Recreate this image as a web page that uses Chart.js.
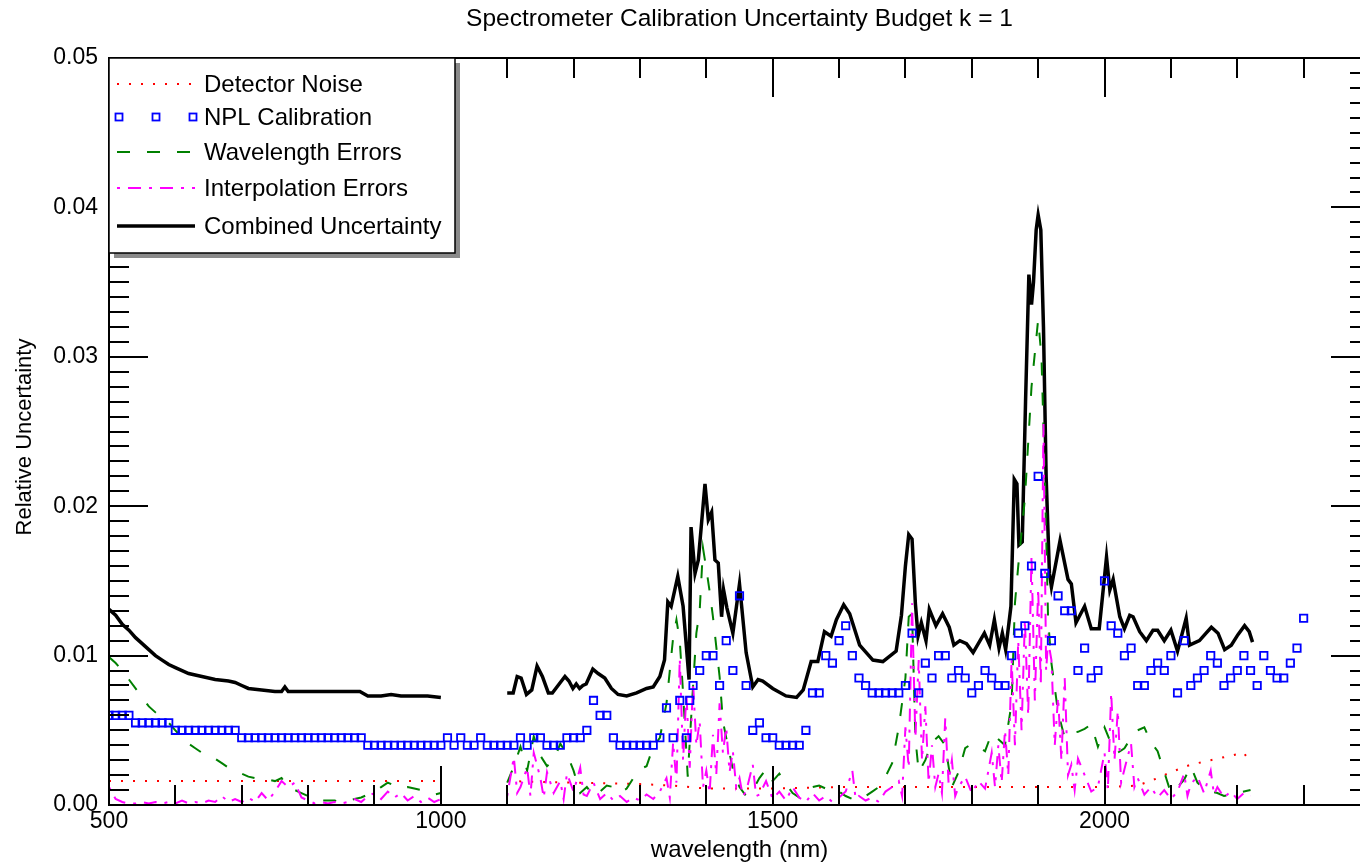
<!DOCTYPE html>
<html>
<head>
<meta charset="utf-8">
<title>Spectrometer Calibration Uncertainty Budget</title>
<script src="https://cdn.jsdelivr.net/npm/chart.js@4.4.1/dist/chart.umd.min.js"></script>
<style>
    html, body { margin: 0; padding: 0; background: #ffffff; overflow: hidden; }
    canvas { display: block; }
</style>
</head>
<body>
<canvas id="budgetChart" width="1400" height="863"></canvas>
<script>
// ---- data: [wavelength nm, relative uncertainty] ----
// null breaks the line (no data between 1000 and 1100 nm)
const detectorNoise = [
    [500, 0.0016], [600, 0.0016], [700, 0.0016], [800, 0.0016], [900, 0.0016], [1000, 0.0016], [1050, null],
    [1100, 0.0016], [1200, 0.0015], [1300, 0.0014], [1350, 0.0013], [1400, 0.0011], [1500, 0.0011],
    [1600, 0.0012], [1700, 0.0012], [1800, 0.0012], [1900, 0.0012], [2000, 0.0012], [2050, 0.0013],
    [2080, 0.0018], [2100, 0.0022], [2130, 0.0027], [2160, 0.003], [2190, 0.0033], [2210, 0.0035], [2220, 0.0028]
];

const nplCalibration = [
    [500, 0.006], [510, 0.006], [520, 0.006], [530, 0.006],
    [540, 0.0055], [550, 0.0055], [560, 0.0055], [570, 0.0055], [580, 0.0055], [590, 0.0055],
    [600, 0.005], [610, 0.005], [620, 0.005], [630, 0.005], [640, 0.005], [650, 0.005], [660, 0.005], [670, 0.005], [680, 0.005], [690, 0.005],
    [700, 0.0045], [710, 0.0045], [720, 0.0045], [730, 0.0045], [740, 0.0045], [750, 0.0045], [760, 0.0045], [770, 0.0045], [780, 0.0045], [790, 0.0045],
    [800, 0.0045], [810, 0.0045], [820, 0.0045], [830, 0.0045], [840, 0.0045], [850, 0.0045], [860, 0.0045], [870, 0.0045], [880, 0.0045],
    [890, 0.004], [900, 0.004], [910, 0.004], [920, 0.004], [930, 0.004], [940, 0.004], [950, 0.004], [960, 0.004], [970, 0.004], [980, 0.004], [990, 0.004], [1000, 0.004],
    [1010, 0.0045], [1020, 0.004], [1030, 0.0045], [1040, 0.004], [1050, 0.004], [1060, 0.0045], [1070, 0.004], [1080, 0.004], [1090, 0.004], [1100, 0.004],
    [1110, 0.004], [1120, 0.0045], [1130, 0.004], [1140, 0.0045], [1150, 0.0045], [1160, 0.004], [1170, 0.004], [1180, 0.004], [1190, 0.0045], [1200, 0.0045],
    [1210, 0.0045], [1220, 0.005], [1230, 0.007], [1240, 0.006], [1250, 0.006], [1260, 0.0045], [1270, 0.004], [1280, 0.004], [1290, 0.004], [1300, 0.004],
    [1310, 0.004], [1320, 0.004], [1330, 0.0045], [1340, 0.0065], [1350, 0.0045], [1360, 0.007], [1370, 0.0045], [1375, 0.007], [1380, 0.008], [1390, 0.009],
    [1400, 0.01], [1410, 0.01], [1420, 0.008], [1430, 0.011], [1440, 0.009], [1450, 0.014], [1460, 0.008], [1470, 0.005], [1480, 0.0055], [1490, 0.0045],
    [1500, 0.0045], [1510, 0.004], [1520, 0.004], [1530, 0.004], [1540, 0.004], [1550, 0.005], [1560, 0.0075], [1570, 0.0075], [1580, 0.01], [1590, 0.0095],
    [1600, 0.011], [1610, 0.012], [1620, 0.01], [1630, 0.0085], [1640, 0.008], [1650, 0.0075], [1660, 0.0075], [1670, 0.0075], [1680, 0.0075], [1690, 0.0075],
    [1700, 0.008], [1710, 0.0115], [1720, 0.0075], [1730, 0.0095], [1740, 0.0085], [1750, 0.01], [1760, 0.01], [1770, 0.0085], [1780, 0.009], [1790, 0.0085],
    [1800, 0.0075], [1810, 0.008], [1820, 0.009], [1830, 0.0085], [1840, 0.008], [1850, 0.008], [1860, 0.01], [1870, 0.0115], [1880, 0.012], [1890, 0.016],
    [1900, 0.022], [1910, 0.0155], [1920, 0.011], [1930, 0.014], [1940, 0.013], [1950, 0.013], [1960, 0.009], [1970, 0.0105], [1980, 0.0085], [1990, 0.009],
    [2000, 0.015], [2010, 0.012], [2020, 0.0115], [2030, 0.01], [2040, 0.0105], [2050, 0.008], [2060, 0.008], [2070, 0.009], [2080, 0.0095], [2090, 0.009],
    [2100, 0.01], [2110, 0.0075], [2120, 0.011], [2130, 0.008], [2140, 0.0085], [2150, 0.009], [2160, 0.01], [2170, 0.0095], [2180, 0.008], [2190, 0.0085],
    [2200, 0.009], [2210, 0.01], [2220, 0.009], [2230, 0.008], [2240, 0.01], [2250, 0.009], [2260, 0.0085], [2270, 0.0085], [2280, 0.0095], [2290, 0.0105],
    [2300, 0.0125]
];

const wavelengthErrors = [
    [500, 0.0099], [510, 0.0095], [520, 0.009], [530, 0.0084], [540, 0.0078], [550, 0.0072], [560, 0.0066], [570, 0.0062], [580, 0.0058], [590, 0.0055],
    [600, 0.005], [610, 0.0045], [620, 0.0041], [630, 0.0038], [640, 0.0035], [650, 0.0033], [660, 0.0031], [670, 0.0028], [680, 0.0025], [690, 0.0023],
    [700, 0.0021], [710, 0.0019], [720, 0.0018], [730, 0.0017], [740, 0.0017], [750, 0.0016], [760, 0.0018], [770, 0.0012], [780, 0.001], [790, 0.0008],
    [800, 0.0006], [810, 0.0004], [820, 0.0003], [830, 0.0003], [840, 0.0003], [850, 0.0002], [860, 0.0003], [870, 0.0004], [880, 0.0005], [890, 0.0007],
    [900, 0.0009], [910, 0.0012], [920, 0.0015], [930, 0.0013], [940, 0.0011], [950, 0.0012], [960, 0.0011], [970, 0.001], [980, 0.0008], [990, 0.0007],
    [1000, 0.0008], [1050, null],
    [1100, 0.0015], [1110, 0.0026], [1120, 0.0039], [1130, 0.0023], [1140, 0.0046], [1150, 0.0033], [1160, 0.0026], [1170, 0.003], [1180, 0.0041], [1190, 0.0034],
    [1200, 0.0023], [1210, 0.0008], [1220, 0.0012], [1230, 0.0006], [1240, 0.0009], [1250, 0.0013], [1260, 0.0012], [1270, 0.0008], [1280, 0.0011], [1290, 0.0018],
    [1300, 0.0024], [1310, 0.0026], [1320, 0.0039], [1330, 0.0045], [1340, 0.0068], [1350, 0.0112], [1355, 0.0124], [1360, 0.011], [1365, 0.0075], [1372, 0.0019],
    [1378, 0.0065], [1385, 0.0115], [1390, 0.013], [1395, 0.0172], [1400, 0.0158], [1405, 0.0143], [1410, 0.0126], [1420, 0.0086], [1425, 0.0056], [1430, 0.0045],
    [1440, 0.0024], [1450, 0.0012], [1460, 0.0006], [1470, 0.001], [1480, 0.0018], [1490, 0.0024], [1500, 0.0016], [1510, 0.0021], [1520, 0.0014], [1530, 0.0008],
    [1540, 0.0005], [1550, 0.0009], [1560, 0.0012], [1570, 0.0013], [1580, 0.0011], [1590, 0.0012], [1600, 0.0009], [1610, 0.0006], [1620, 0.0004], [1630, 0.0007],
    [1640, 0.0006], [1650, 0.0009], [1660, 0.0012], [1670, 0.0019], [1680, 0.0028], [1690, 0.0052], [1700, 0.0085], [1705, 0.0126], [1710, 0.0128], [1715, 0.0045],
    [1720, 0.0022], [1730, 0.003], [1740, 0.0042], [1750, 0.0046], [1760, 0.004], [1770, 0.0012], [1780, 0.0022], [1790, 0.0038], [1800, 0.0041], [1810, 0.0039],
    [1820, 0.0036], [1830, 0.0048], [1840, 0.0044], [1850, 0.004], [1860, 0.0068], [1865, 0.0135], [1870, 0.016], [1880, 0.0205], [1890, 0.028], [1900, 0.0325],
    [1905, 0.03], [1910, 0.022], [1915, 0.0124], [1920, 0.0095], [1930, 0.0062], [1940, 0.0045], [1950, 0.0048], [1960, 0.0049], [1970, 0.0051], [1980, 0.0054],
    [1990, 0.0039], [2000, 0.0052], [2010, 0.0041], [2020, 0.0035], [2030, 0.0038], [2040, 0.0045], [2050, 0.005], [2060, 0.0052], [2070, 0.0042], [2080, 0.0036],
    [2090, 0.0022], [2100, 0.0008], [2110, 0.0012], [2120, 0.0017], [2130, 0.0026], [2140, 0.0015], [2150, 0.0011], [2160, 0.0009], [2170, 0.0008], [2180, 0.0006],
    [2190, 0.0007], [2200, 0.0008], [2210, 0.0009], [2220, 0.001]
];

const interpolationErrors = [
    [500, 0.0012], [510, 0.0004], [520, 0.0002], [530, 0.0001], [540, 0.0001], [550, 0.0002], [560, 0.0001], [570, 0.0002], [580, 0.0001], [590, 0.0002],
    [600, 0.0001], [610, 0.0003], [620, 0.0001], [630, 0.0002], [640, 0.0001], [650, 0.0003], [660, 0.0002], [670, 0.0006], [680, 0.0002], [690, 0.0004],
    [700, 0.0002], [710, 0.0005], [720, 0.0002], [730, 0.0008], [740, 0.0003], [750, 0.0009], [760, 0.0016], [770, 0.0012], [780, 0.0015], [790, 0.0005],
    [800, 0.0003], [810, 0.0001], [820, 0.0002], [830, 0.0001], [840, 0.0002], [850, 0.0001], [860, 0.0002], [870, 0.0004], [880, 0.0002], [890, 0.0006],
    [900, 0.0008], [910, 0.0004], [920, 0.0009], [930, 0.0005], [940, 0.0008], [950, 0.0003], [960, 0.0006], [970, 0.0002], [980, 0.0005], [990, 0.0002],
    [1000, 0.0004], [1050, null],
    [1100, 0.0006], [1110, 0.0032], [1115, 0.0008], [1120, 0.0012], [1130, 0.0025], [1135, 0.0006], [1140, 0.0035], [1150, 0.0018], [1155, 0.0005], [1160, 0.0022],
    [1170, 0.0008], [1180, 0.0016], [1185, 0.0004], [1190, 0.0021], [1200, 0.0009], [1210, 0.0025], [1215, 0.0007], [1220, 0.0006], [1230, 0.0015], [1240, 0.0004],
    [1250, 0.0008], [1260, 0.0003], [1270, 0.0006], [1280, 0.0002], [1290, 0.0005], [1300, 0.0003], [1310, 0.0007], [1320, 0.0004], [1330, 0.0009],
    [1340, 0.0018], [1345, 0.0005], [1350, 0.0042], [1355, 0.0015], [1360, 0.0098], [1365, 0.003], [1370, 0.0075], [1375, 0.0025], [1380, 0.0082], [1385, 0.004],
    [1390, 0.0056], [1395, 0.0012], [1400, 0.0023], [1405, 0.0008], [1410, 0.0047], [1415, 0.002], [1420, 0.0068], [1425, 0.0035], [1430, 0.0052], [1435, 0.0022],
    [1440, 0.0036], [1445, 0.0012], [1450, 0.0018], [1455, 0.0006], [1460, 0.0009], [1470, 0.0027], [1475, 0.0006], [1480, 0.0007], [1490, 0.0016],
    [1500, 0.0004], [1510, 0.0009], [1520, 0.0003], [1530, 0.0012], [1540, 0.0005], [1550, 0.0002], [1560, 0.0008], [1570, 0.0003], [1580, 0.0006], [1590, 0.0002],
    [1600, 0.0005], [1610, 0.0009], [1620, 0.0023], [1625, 0.0004], [1630, 0.0006], [1640, 0.0003], [1650, 0.0005], [1660, 0.0002], [1670, 0.0009], [1680, 0.0012],
    [1690, 0.0016], [1695, 0.0006], [1700, 0.0052], [1705, 0.0025], [1710, 0.0135], [1715, 0.0045], [1720, 0.0097], [1725, 0.003], [1730, 0.0066], [1735, 0.0015],
    [1740, 0.004], [1745, 0.0012], [1750, 0.0021], [1755, 0.0008], [1760, 0.0058], [1765, 0.0015], [1770, 0.003], [1775, 0.0006], [1780, 0.0012], [1790, 0.0019],
    [1800, 0.0008], [1810, 0.0016], [1820, 0.0011], [1830, 0.0035], [1835, 0.0012], [1840, 0.004], [1845, 0.0015], [1850, 0.005], [1855, 0.002], [1860, 0.0098],
    [1865, 0.004], [1870, 0.011], [1875, 0.005], [1880, 0.0124], [1885, 0.006], [1890, 0.0167], [1895, 0.007], [1900, 0.0145], [1904, 0.008], [1908, 0.0255],
    [1912, 0.009], [1915, 0.011], [1920, 0.0097], [1925, 0.004], [1930, 0.0072], [1935, 0.003], [1940, 0.0085], [1945, 0.002], [1950, 0.0027], [1955, 0.001],
    [1960, 0.0031], [1970, 0.002], [1980, 0.0009], [1990, 0.0012], [2000, 0.0035], [2005, 0.001], [2010, 0.0075], [2015, 0.003], [2020, 0.0063], [2025, 0.0015],
    [2030, 0.0024], [2040, 0.0041], [2045, 0.0012], [2050, 0.0018], [2060, 0.0007], [2070, 0.0012], [2080, 0.0005], [2090, 0.001], [2100, 0.0004], [2110, 0.0009],
    [2120, 0.0021], [2125, 0.0006], [2130, 0.0014], [2140, 0.0019], [2150, 0.0008], [2160, 0.0023], [2165, 0.0007], [2170, 0.0012], [2180, 0.0005], [2190, 0.0009],
    [2200, 0.0004], [2210, 0.0008], [2220, 0.0006]
];

const combinedUncertainty = [
    [500, 0.0131], [510, 0.0127], [520, 0.0121], [530, 0.0117], [540, 0.0112], [550, 0.0108], [560, 0.0104], [570, 0.01], [580, 0.0097], [590, 0.0094],
    [600, 0.0092], [620, 0.0088], [640, 0.0086], [660, 0.0084], [680, 0.0083], [690, 0.0082], [700, 0.008], [710, 0.0078], [730, 0.0077], [750, 0.0076],
    [760, 0.0076], [765, 0.0079], [770, 0.0076], [790, 0.0076], [820, 0.0076], [850, 0.0076], [878, 0.0076], [890, 0.0073], [910, 0.0073], [925, 0.0074],
    [940, 0.0073], [960, 0.0073], [980, 0.0073], [1000, 0.0072], [1050, null],
    [1100, 0.0075], [1109, 0.0075], [1115, 0.0086], [1121, 0.0085], [1129, 0.0074], [1137, 0.0077], [1145, 0.0093], [1153, 0.0086], [1162, 0.0075], [1168, 0.0075],
    [1180, 0.0082], [1187, 0.0086], [1193, 0.0083], [1199, 0.0078], [1204, 0.0081], [1209, 0.0078], [1214, 0.008], [1219, 0.0081], [1229, 0.0091], [1237, 0.0088],
    [1247, 0.0085], [1257, 0.0078], [1267, 0.0074], [1280, 0.0073], [1295, 0.0075], [1310, 0.0078], [1320, 0.0079], [1330, 0.0086], [1337, 0.0097], [1342, 0.0136],
    [1347, 0.0133], [1357, 0.0153], [1365, 0.0133], [1374, 0.0084], [1377, 0.0186], [1383, 0.0155], [1388, 0.0164], [1398, 0.0215], [1403, 0.0191], [1408, 0.0196],
    [1413, 0.0164], [1418, 0.0162], [1423, 0.0126], [1426, 0.0144], [1431, 0.0132], [1440, 0.0115], [1450, 0.0148], [1460, 0.0102], [1470, 0.0079], [1478, 0.0084],
    [1485, 0.0083], [1500, 0.0078], [1520, 0.0073], [1536, 0.0072], [1546, 0.0077], [1558, 0.0096], [1568, 0.0096], [1578, 0.0116], [1588, 0.0113], [1596, 0.0124],
    [1607, 0.0134], [1616, 0.0128], [1631, 0.0107], [1651, 0.0097], [1666, 0.0096], [1686, 0.0103], [1694, 0.0127], [1700, 0.016], [1705, 0.0181], [1710, 0.0178],
    [1715, 0.0135], [1719, 0.0113], [1724, 0.0122], [1731, 0.011], [1736, 0.0131], [1746, 0.012], [1756, 0.0128], [1766, 0.0119], [1773, 0.0107], [1782, 0.011],
    [1792, 0.0108], [1802, 0.0102], [1819, 0.0115], [1827, 0.0107], [1834, 0.0124], [1841, 0.0105], [1846, 0.0115], [1851, 0.0104], [1856, 0.0122], [1859, 0.0133],
    [1864, 0.0218], [1868, 0.0215], [1871, 0.0174], [1876, 0.0176], [1881, 0.027], [1886, 0.0355], [1890, 0.0335], [1893, 0.035], [1897, 0.0385], [1900, 0.0395],
    [1904, 0.0385], [1908, 0.032], [1912, 0.022], [1917, 0.0155], [1920, 0.0146], [1933, 0.0177], [1945, 0.0151], [1950, 0.0148], [1957, 0.0122], [1970, 0.0133],
    [1980, 0.0118], [1992, 0.0118], [2003, 0.0166], [2008, 0.0144], [2013, 0.0151], [2023, 0.0126], [2030, 0.0118], [2038, 0.0127], [2043, 0.0126], [2053, 0.0116],
    [2063, 0.011], [2073, 0.0117], [2080, 0.0117], [2090, 0.011], [2100, 0.0117], [2110, 0.0103], [2123, 0.0125], [2128, 0.0107], [2143, 0.011], [2153, 0.0115],
    [2161, 0.0119], [2171, 0.0115], [2181, 0.0104], [2191, 0.0107], [2201, 0.0114], [2211, 0.012], [2218, 0.0116], [2223, 0.0109]
];

const seriesLabels = ['Detector Noise', 'NPL Calibration', 'Wavelength Errors', 'Interpolation Errors', 'Combined Uncertainty'];
const xTickValues = [500, 1000, 1500, 2000];
const yTickValues = [0, 0.01, 0.02, 0.03, 0.04, 0.05];
const yTickLabels = ['0.00', '0.01', '0.02', '0.03', '0.04', '0.05'];

// ---- axis / look settings ----
const FONT = '"Liberation Sans", Arial, Helvetica, sans-serif';
const X_MIN = 500, X_MAX = 2400, X_MINOR = 100, X_MAJOR = 500;
const Y_MIN = 0, Y_MAX = 0.05, Y_MINOR = 0.001, Y_MAJOR = 0.01;

const styles = {
    noise: { color: '#ff0000', dash: [2, 10], width: 2 },
    npl: { color: '#0000ff' },
    wave: { color: '#008000', dash: [13, 17], width: 2 },
    interp: { color: '#ff00ff', dash: [3, 8, 13, 8], width: 2 },
    combined: { color: '#000000', width: 3.5 }
};

function toPoints(pairs) {
    return pairs.map(p => ({ x: p[0], y: p[1] }));
}

function lineDataset(label, pairs, style, order) {
    return {
        label: label,
        data: toPoints(pairs),
        borderColor: style.color,
        borderWidth: style.width,
        borderDash: style.dash || [],
        pointRadius: 0,
        fill: false,
        tension: 0,
        spanGaps: false,
        order: order
    };
}

// Draws the boxed frame, inward ticks, legend and texts like the original IDL plot
const framePlugin = {
    id: 'idlFrame',
    afterDatasetsDraw(chart) {
        const ctx = chart.ctx;
        const { left, right, top, bottom } = chart.chartArea;
        const xs = chart.scales.x;
        const ys = chart.scales.y;

        ctx.save();
        ctx.strokeStyle = '#000';
        ctx.lineWidth = 2;
        ctx.setLineDash([]);

        // ticks on all four sides, pointing inwards
        ctx.beginPath();
        for (let w = X_MIN; w <= X_MAX; w += X_MINOR) {
            const px = Math.round(xs.getPixelForValue(w));
            const len = (w % X_MAJOR === 0) ? 39 : 20;
            ctx.moveTo(px, bottom); ctx.lineTo(px, bottom - len);
            ctx.moveTo(px, top); ctx.lineTo(px, top + len);
        }
        const nY = Math.round((Y_MAX - Y_MIN) / Y_MINOR);
        const perMajor = Math.round(Y_MAJOR / Y_MINOR);
        for (let i = 0; i <= nY; i++) {
            const py = Math.round(ys.getPixelForValue(Y_MIN + i * Y_MINOR));
            const len = (i % perMajor === 0) ? 39 : 20;
            ctx.moveTo(left, py); ctx.lineTo(left + len, py);
            ctx.moveTo(right, py); ctx.lineTo(right - len, py);
        }
        ctx.stroke();

        // plot box
        ctx.strokeRect(left, top, right - left, bottom - top);

        drawLegend(ctx, left, top);
        ctx.restore();
    },
    afterDraw(chart) {
        const ctx = chart.ctx;
        const { left, right } = chart.chartArea;
        const cx = (left + right) / 2;
        ctx.save();
        ctx.fillStyle = '#000';
        ctx.textAlign = 'center';
        ctx.textBaseline = 'middle';
        ctx.font = '24.5px ' + FONT;
        ctx.fillText('Spectrometer Calibration Uncertainty Budget k = 1', cx, 19);
        ctx.font = '24px ' + FONT;
        ctx.fillText('wavelength (nm)', cx, 850);
        ctx.translate(25, 437);
        ctx.rotate(-Math.PI / 2);
        ctx.font = '22px ' + FONT;
        ctx.fillText('Relative Uncertainty', 0, 0);
        ctx.restore();
    }
};

function drawLegend(ctx, left, top) {
    const boxW = 346, boxH = 195;
    const x0 = left, y0 = top;

    // drop shadow then white box
    ctx.fillStyle = '#8a8a8a';
    ctx.fillRect(x0 + 5, y0 + 5, boxW, boxH);
    ctx.fillStyle = '#ffffff';
    ctx.fillRect(x0, y0, boxW, boxH);
    ctx.lineWidth = 1.5;
    ctx.strokeStyle = '#000';
    ctx.strokeRect(x0, y0, boxW, boxH);

    const rows = [26, 59, 94, 130, 168];
    const sx0 = x0 + 8, sx1 = x0 + 86;
    const keys = ['noise', 'npl', 'wave', 'interp', 'combined'];

    keys.forEach((key, i) => {
        const y = y0 + rows[i];
        const st = styles[key];
        if (key === 'npl') {
            ctx.setLineDash([]);
            ctx.strokeStyle = st.color;
            ctx.lineWidth = 1.8;
            [x0 + 10, x0 + 47, x0 + 84].forEach(px => ctx.strokeRect(px - 3.5, y - 3.5, 7, 7));
        } else {
            ctx.beginPath();
            ctx.setLineDash(st.dash || []);
            ctx.strokeStyle = st.color;
            ctx.lineWidth = st.width;
            ctx.moveTo(sx0, y);
            ctx.lineTo(sx1, y);
            ctx.stroke();
        }
        ctx.setLineDash([]);
        ctx.fillStyle = '#000';
        ctx.font = '24px ' + FONT;
        ctx.textAlign = 'left';
        ctx.textBaseline = 'middle';
        ctx.fillText(seriesLabels[i], x0 + 95, y + 1);
    });
}

function buildChart() {
    const canvas = document.getElementById('budgetChart');

    const datasets = [
        lineDataset(seriesLabels[4], combinedUncertainty, styles.combined, 5),
        lineDataset(seriesLabels[0], detectorNoise, styles.noise, 4),
        lineDataset(seriesLabels[2], wavelengthErrors, styles.wave, 3),
        lineDataset(seriesLabels[3], interpolationErrors, styles.interp, 2),
        {
            label: seriesLabels[1],
            data: toPoints(nplCalibration),
            showLine: false,
            pointStyle: 'rect',
            pointRadius: 5.2,
            pointBorderWidth: 1.8,
            pointBorderColor: styles.npl.color,
            pointBackgroundColor: 'rgba(0,0,0,0)',
            order: 1
        }
    ];

    return new Chart(canvas, {
        type: 'line',
        data: { datasets: datasets },
        options: {
            responsive: false,
            animation: false,
            layout: { padding: { top: 58, right: 30, left: 0, bottom: 0 } },
            plugins: {
                legend: { display: false },
                title: { display: false },
                tooltip: { enabled: false }
            },
            scales: {
                x: {
                    type: 'linear',
                    min: X_MIN,
                    max: X_MAX,
                    grid: { display: false, drawTicks: false },
                    border: { display: false },
                    afterBuildTicks(scale) {
                        scale.ticks = xTickValues.map(v => ({ value: v }));
                    },
                    ticks: {
                        autoSkip: false,
                        maxRotation: 0,
                        padding: 3,
                        color: '#000',
                        font: { family: FONT, size: 23 },
                        callback: v => String(v)
                    },
                    afterFit(scale) { scale.height = 58; }
                },
                y: {
                    type: 'linear',
                    min: Y_MIN,
                    max: Y_MAX,
                    grid: { display: false, drawTicks: false },
                    border: { display: false },
                    afterBuildTicks(scale) {
                        scale.ticks = yTickValues.map(v => ({ value: v }));
                    },
                    ticks: {
                        autoSkip: false,
                        padding: 11,
                        color: '#000',
                        font: { family: FONT, size: 23 },
                        callback: (v, i) => yTickLabels[i]
                    },
                    afterFit(scale) { scale.width = 109; }
                }
            }
        },
        plugins: [framePlugin]
    });
}

document.addEventListener('DOMContentLoaded', function() {
    window.budgetChart = buildChart();
});
</script>
</body>
</html>
